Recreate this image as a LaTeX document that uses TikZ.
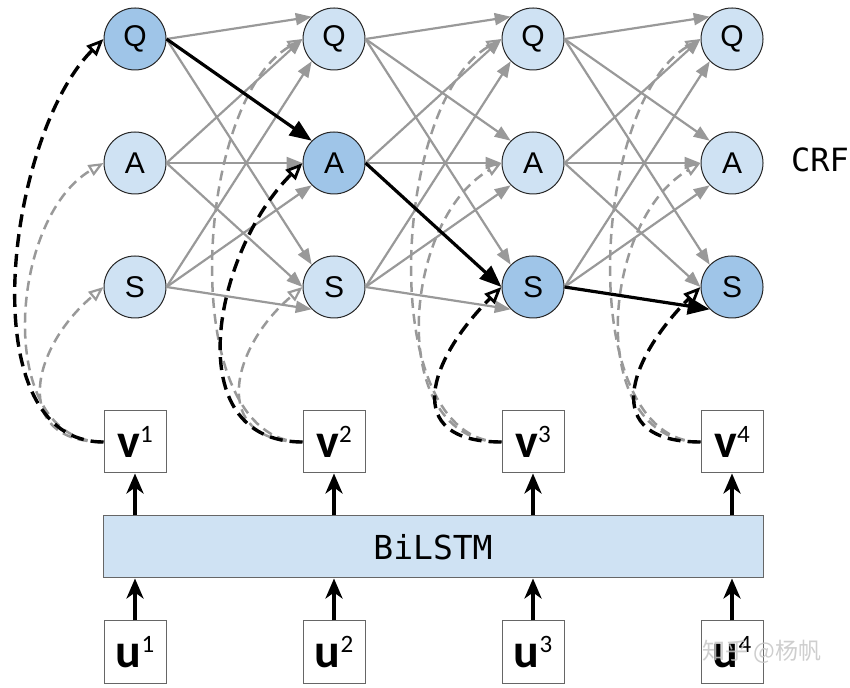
\documentclass[tikz,border=0pt]{standalone}
\usepackage{fontspec}
\setmainfont{Liberation Sans}
\newfontfamily\boxfont{Carlito}
\newfontfamily\monofont{DejaVu Sans Mono}
\newfontfamily\cjkfont{Noto Sans CJK SC}
\usetikzlibrary{arrows.meta}
\definecolor{lightblue}{HTML}{CFE2F3}
\definecolor{midblue}{HTML}{9FC5E8}
\definecolor{edgegrey}{HTML}{999999}
\definecolor{boxgrey}{HTML}{666666}
\newcommand\vecsym[2]{{\boxfont\bfseries\fontsize{48}{48}\selectfont #1}\raisebox{15pt}{\boxfont\fontsize{25}{25}\selectfont #2}}
\begin{document}
\begin{tikzpicture}[x=1pt,y=1pt,
  tagnode/.style={circle, draw=black!85, line width=1pt, fill=lightblue, minimum size=62pt, inner sep=0pt, font=\fontsize{30}{30}\selectfont},
  hot/.style={fill=midblue},
  vecbox/.style={draw=boxgrey, line width=1pt, fill=white, minimum width=62pt, minimum height=62pt, inner sep=0pt},
  transedge/.style={draw=edgegrey, line width=2.2pt, -{Triangle[length=16pt,width=12pt]}},
  bestpath/.style={draw=black, line width=3.2pt, -{Triangle[length=22pt,width=17pt]}},
  emitg/.style={draw=edgegrey, line width=2.5pt, dash pattern=on 10pt off 6pt, -{Triangle[open,length=15pt,width=12pt,line width=2.2pt]}},
  emitb/.style={draw=black, line width=3.4pt, dash pattern=on 13pt off 7pt, -{Triangle[open,length=17pt,width=14pt,line width=2.8pt]}},
  feed/.style={draw=black, line width=3.8pt, -{Stealth[length=20pt,width=17pt,inset=6pt]}},
]
\useasboundingbox (0,0) rectangle (850,687);

% CRF states
\node[tagnode,hot] (Q1) at (135,648) {Q};
\node[tagnode] (A1) at (135,524) {A};
\node[tagnode] (S1) at (135,400) {S};
\node[tagnode] (Q2) at (334,648) {Q};
\node[tagnode,hot] (A2) at (334,524) {A};
\node[tagnode] (S2) at (334,400) {S};
\node[tagnode] (Q3) at (533,648) {Q};
\node[tagnode] (A3) at (533,524) {A};
\node[tagnode,hot] (S3) at (533,400) {S};
\node[tagnode] (Q4) at (732,648) {Q};
\node[tagnode] (A4) at (732,524) {A};
\node[tagnode,hot] (S4) at (732,400) {S};
\node (crf) at (820,527) {\monofont\fontsize{32}{32}\selectfont CRF};

% emission boxes
\node[vecbox] (v1) at (135,245) {\vecsym{v}{1}};
\node[vecbox] (v2) at (334,245) {\vecsym{v}{2}};
\node[vecbox] (v3) at (533,245) {\vecsym{v}{3}};
\node[vecbox] (v4) at (732,245) {\vecsym{v}{4}};

% BiLSTM
\node[draw=boxgrey, fill=lightblue, line width=1pt, minimum width=660pt, minimum height=62pt, inner sep=0pt] (lstm) at (433,140) {\monofont\fontsize{33}{33}\selectfont BiLSTM};

% inputs
\node[vecbox] (u1) at (135,35) {\vecsym{u}{1}};
\node[vecbox] (u2) at (334,35) {\vecsym{u}{2}};
\node[vecbox] (u3) at (533,35) {\vecsym{u}{3}};
\node[vecbox] (u4) at (732,35) {\vecsym{u}{4}};

% transitions (grey)
\draw[transedge] (Q1.east) -- (Q2.north west);
\draw[transedge] (Q1.east) -- (S2.north west);
\draw[transedge] (A1.east) -- (Q2.west);
\draw[transedge] (A1.east) -- (A2.west);
\draw[transedge] (A1.east) -- (S2.west);
\draw[transedge] (S1.east) -- (Q2.south west);
\draw[transedge] (S1.east) -- (A2.south west);
\draw[transedge] (S1.east) -- (S2.south west);

\draw[transedge] (Q2.east) -- (Q3.north west);
\draw[transedge] (Q2.east) -- (A3.north west);
\draw[transedge] (Q2.east) -- (S3.north west);
\draw[transedge] (A2.east) -- (Q3.west);
\draw[transedge] (A2.east) -- (A3.west);
\draw[transedge] (S2.east) -- (Q3.south west);
\draw[transedge] (S2.east) -- (A3.south west);
\draw[transedge] (S2.east) -- (S3.south west);

\draw[transedge] (Q3.east) -- (Q4.north west);
\draw[transedge] (Q3.east) -- (A4.north west);
\draw[transedge] (Q3.east) -- (S4.north west);
\draw[transedge] (A3.east) -- (Q4.west);
\draw[transedge] (A3.east) -- (A4.west);
\draw[transedge] (A3.east) -- (S4.west);
\draw[transedge] (S3.east) -- (Q4.south west);
\draw[transedge] (S3.east) -- (A4.south west);

% emissions (grey dashed)
\draw[emitg] (v1.west) .. controls +(180:110) and +(210:110) .. (A1.west);
\draw[emitg] (v1.west) .. controls +(180:94) and +(220:94) .. (S1.west);
\draw[emitg] (v2.west) .. controls +(180:127) and +(210:127) .. (Q2.west);
\draw[emitg] (v2.west) .. controls +(180:94) and +(220:94) .. (S2.west);
\draw[emitg] (v3.west) .. controls +(180:127) and +(210:127) .. (Q3.west);
\draw[emitg] (v3.west) .. controls +(180:116) and +(210:116) .. (A3.west);
\draw[emitg] (v4.west) .. controls +(180:127) and +(210:127) .. (Q4.west);
\draw[emitg] (v4.west) .. controls +(180:116) and +(210:116) .. (A4.west);

% emissions (black dashed, best path)
\draw[emitb] (v1.west) .. controls +(180:136) and +(225:136) .. (Q1.west);
\draw[emitb] (v2.west) .. controls +(180:126) and +(225:126) .. (A2.west);
\draw[emitb] (v3.west) .. controls +(180:102) and +(225:102) .. (S3.west);
\draw[emitb] (v4.west) .. controls +(180:102) and +(225:102) .. (S4.west);

% best path
\draw[bestpath] (Q1.east) -- (A2.north west);
\draw[bestpath] (A2.east) -- (S3.west);
\draw[bestpath] (S3.east) -- (S4.south west);

% BiLSTM feeds
\foreach \k in {1,2,3,4}{
  \draw[feed] (u\k.north) -- (lstm.south -| u\k.north);
  \draw[feed] (lstm.north -| v\k.south) -- (v\k.south);
}

% watermark
\node[text=gray!45, opacity=0.85] (wm) at (762,35) {\cjkfont\fontsize{23}{23}\selectfont 知乎 @杨帆};
\end{tikzpicture}
\end{document}
